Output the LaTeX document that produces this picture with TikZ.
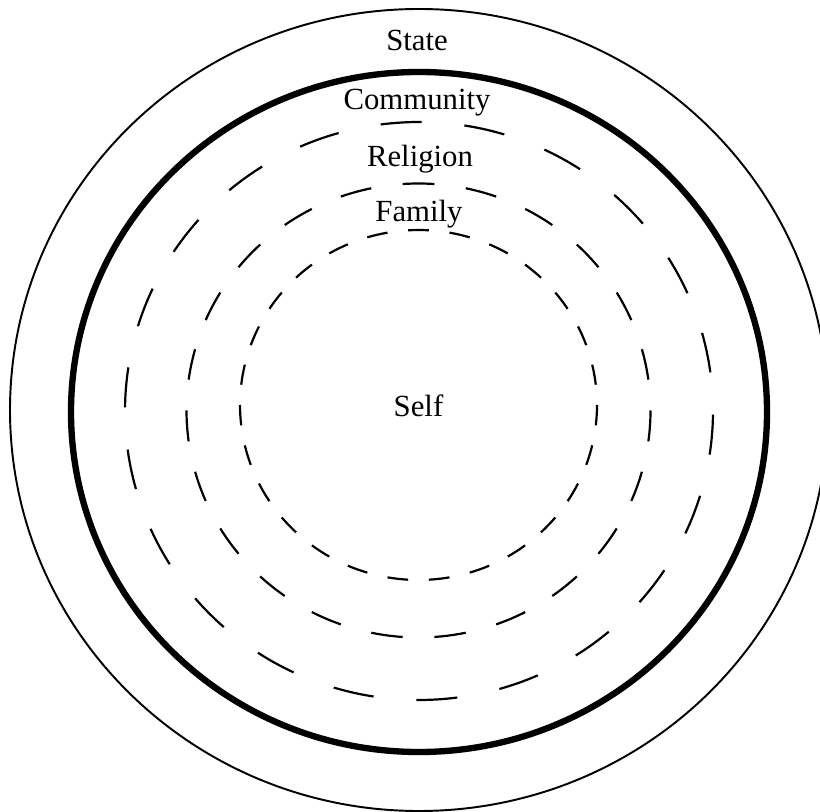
\documentclass[tikz,border=0pt]{standalone}
\usepackage{fontspec}
\setmainfont{Liberation Serif}
\begin{document}
\begin{tikzpicture}[x=0.02cm,y=0.02cm,
  lbl/.style={font=\fontsize{17.5}{21}\selectfont, inner sep=0pt, anchor=base},
  thinring/.style={line width=1.1pt},
  thickring/.style={line width=3.6pt},
  dashring/.style={line width=1.25pt}]
\useasboundingbox (0,0) rectangle (820,811);
\coordinate (cS) at (419,401);
\coordinate (cT) at (419,399);
\coordinate (cC) at (419,400);
\coordinate (cR) at (418.5,400.5);
\coordinate (cF) at (418.5,406);
% State (outer thin)
\draw[thinring] (cS) ellipse [x radius=409, y radius=401];
% thick boundary
\draw[thickring] (cT) ellipse [x radius=348, y radius=340];
% Community dashed ring: 22 dashes
\foreach \k in {0,...,21}{
  \pgfmathsetmacro\a{269.5+\k*360/22}
  \draw[dashring] ([shift={(\a:294 and 289)}]cC) arc[start angle=\a, delta angle=7.98, x radius=294, y radius=289];
}
% Religion dashed ring: 23 dashes
\foreach \k in {0,...,22}{
  \pgfmathsetmacro\a{273.91+\k*360/23}
  \draw[dashring] ([shift={(\a:232 and 227)}]cR) arc[start angle=\a, delta angle=7.83, x radius=232, y radius=227];
}
% Family dashed ring: 27 dashes
\foreach \k in {0,...,26}{
  \pgfmathsetmacro\a{273.333+\k*360/27}
  \draw[dashring] ([shift={(\a:178.5 and 175)}]cF) arc[start angle=\a, delta angle=6.667, x radius=178.5, y radius=175];
}
\node[lbl] (state) at (417,760) {State};
\node[lbl] (community) at (417,701) {Community};
\node[lbl] (religion) at (420,644) {Religion};
\node[lbl] (family) at (419,589) {Family};
\node[lbl] (self) at (418.5,394) {Self};
\end{tikzpicture}
\end{document}
